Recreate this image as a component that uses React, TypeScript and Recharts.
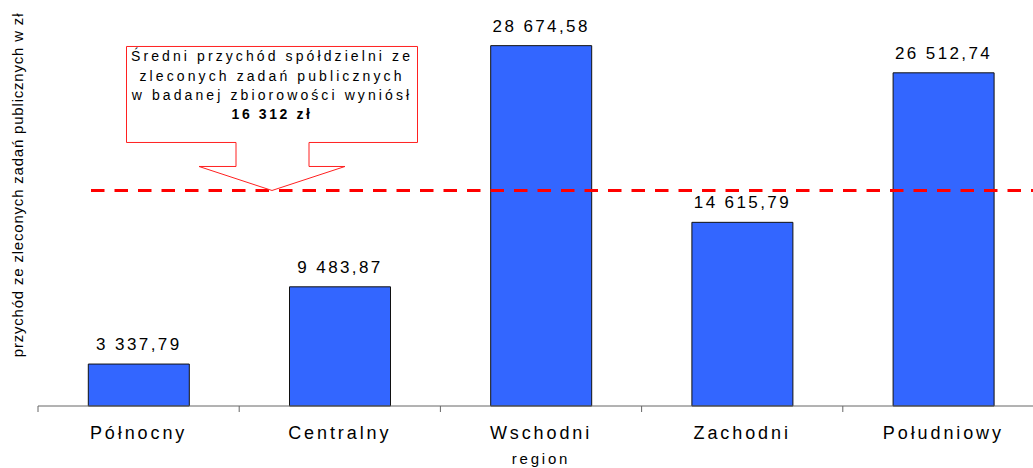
import React from "react";
import {
  BarChart,
  Bar,
  XAxis,
  YAxis,
  LabelList,
  ReferenceLine,
  Customized,
} from "recharts";

const regions = ["Północny", "Centralny", "Wschodni", "Zachodni", "Południowy"];
const revenue = [3337.79, 9483.87, 28674.58, 14615.79, 26512.74];
// average line, as it is drawn in the source picture
const meanLine = 17150;
const calloutLines = [
  "Średni przychód spółdzielni ze",
  "zleconych zadań publicznych",
  "w badanej zbiorowości wyniósł",
];
const calloutValue = "16 312 zł";

const data = regions.map((region, i) => ({ region, value: revenue[i] }));

const WIDTH = 1044;
const HEIGHT = 468;
const LEFT = 38;
const BAND = (WIDTH - LEFT) / regions.length;
const FONT = "'Liberation Sans', Arial, sans-serif";

// Polish number format: "28 674,58"
function formatPl(v: number): string {
  const [int, dec] = v.toFixed(2).split(".");
  return int.replace(/\B(?=(\d{3})+(?!\d))/g, " ") + "," + dec;
}

function CategoryTick(props: any) {
  const { x, y, payload } = props;
  return (
    <g>
      <line x1={x - BAND / 2} x2={x - BAND / 2} y1={y} y2={y + 6} stroke="#666" />
      <text
        x={x}
        y={y + 33}
        textAnchor="middle"
        fontSize={18}
        letterSpacing={2.9}
        fill="#000"
        fontFamily={FONT}
      >
        {payload.value}
      </text>
    </g>
  );
}

function DashedMean(props: any) {
  const { x1, x2, y1 } = props;
  return (
    <line
      x1={x1 + 53}
      x2={x2}
      y1={y1}
      y2={y1}
      stroke="#ff0000"
      strokeWidth={3}
      strokeDasharray="13.5 10"
    />
  );
}

function Callout(props: any) {
  const vb = props.viewBox || {};
  const tx = vb.x + 234;
  const ty = vb.y;
  const d = [
    [tx - 145.5, ty - 144],
    [tx + 145.5, ty - 144],
    [tx + 145.5, ty - 48],
    [tx + 37, ty - 48],
    [tx + 37, ty - 24],
    [tx + 73, ty - 24],
    [tx, ty],
    [tx - 73, ty - 24],
    [tx - 36, ty - 24],
    [tx - 36, ty - 48],
    [tx - 145.5, ty - 48],
  ]
    .map((p, i) => (i === 0 ? "M" : "L") + p[0] + "," + p[1])
    .join(" ") + " Z";
  return (
    <g>
      <path d={d} fill="#fff" stroke="#ff2020" strokeWidth={1} />
      {calloutLines.map((line, i) => (
        <text
          key={i}
          x={tx}
          y={ty - 129 + i * 19.3}
          textAnchor="middle"
          fontSize={14}
          letterSpacing={3.1}
          fill="#000"
          fontFamily={FONT}
        >
          {line}
        </text>
      ))}
      <text
        x={tx}
        y={ty - 71}
        textAnchor="middle"
        fontSize={14}
        fontWeight="bold"
        letterSpacing={2.6}
        fill="#000"
        fontFamily={FONT}
      >
        {calloutValue}
      </text>
    </g>
  );
}

function YTitle() {
  return (
    <text
      x={17}
      y={185}
      transform="rotate(-90 17 185)"
      textAnchor="middle"
      dominantBaseline="central"
      fontSize={15}
      letterSpacing={0.8}
      fill="#000"
      fontFamily={FONT}
    >
      przychód ze zleconych zadań publicznych w zł
    </text>
  );
}

export default function App() {
  return (
    <div
      style={{
        position: "absolute",
        left: 0,
        top: 0,
        width: 1033,
        height: HEIGHT,
        overflow: "hidden",
        background: "#fff",
        fontFamily: FONT,
      }}
    >
      <BarChart
        width={WIDTH}
        height={HEIGHT}
        data={data}
        margin={{ top: 29, right: 0, left: LEFT, bottom: 0 }}
        barCategoryGap="25%"
      >
        <XAxis
          dataKey="region"
          height={62}
          tickSize={0}
          tickMargin={0}
          tickLine={false}
          axisLine={{ stroke: "#666" }}
          tick={<CategoryTick />}
          interval={0}
          label={{
            value: "region",
            position: "insideBottom",
            offset: 4,
            fontSize: 15,
            letterSpacing: 2.8,
            fill: "#000",
            fontFamily: FONT,
          }}
        />
        <YAxis hide domain={[0, 30000]} />
        <Bar
          dataKey="value"
          fill="#3366ff"
          stroke="#111"
          strokeWidth={1}
          isAnimationActive={false}
        >
          <LabelList
            dataKey="value"
            position="top"
            offset={14}
            formatter={(v: any) => formatPl(Number(v))}
            fontSize={17}
            letterSpacing={2.4}
            fill="#000"
            fontFamily={FONT}
          />
        </Bar>
        <ReferenceLine
          y={meanLine}
          shape={<DashedMean />}
          label={<Callout />}
          ifOverflow="extendDomain"
        />
        <Customized component={YTitle} />
      </BarChart>
    </div>
  );
}
